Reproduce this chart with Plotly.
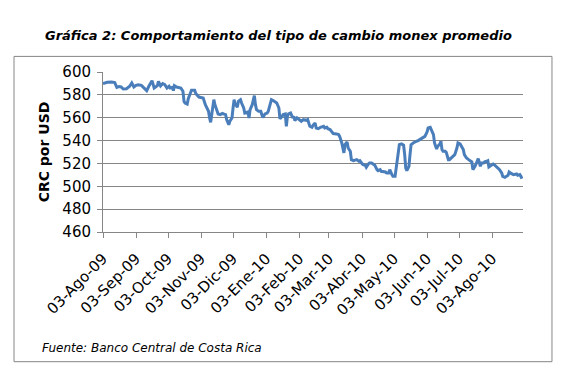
import plotly.graph_objects as go

fechas = [
    "2009-08-03", "2009-08-07", "2009-08-11", "2009-08-14", "2009-08-16", "2009-08-18",
    "2009-08-20", "2009-08-22", "2009-08-25", "2009-08-28", "2009-08-30", "2009-09-01",
    "2009-09-03", "2009-09-05", "2009-09-08", "2009-09-12", "2009-09-13", "2009-09-15",
    "2009-09-18", "2009-09-20", "2009-09-23", "2009-09-24", "2009-09-26", "2009-09-28",
    "2009-09-30", "2009-10-02", "2009-10-04", "2009-10-05", "2009-10-07", "2009-10-08",
    "2009-10-09", "2009-10-11", "2009-10-14", "2009-10-15", "2009-10-17", "2009-10-18",
    "2009-10-19", "2009-10-21", "2009-10-22", "2009-10-24", "2009-10-25", "2009-10-28",
    "2009-10-29", "2009-11-01", "2009-11-03", "2009-11-05", "2009-11-07", "2009-11-08",
    "2009-11-10", "2009-11-11", "2009-11-12", "2009-11-13", "2009-11-15", "2009-11-16",
    "2009-11-18", "2009-11-19", "2009-11-21", "2009-11-23", "2009-11-24", "2009-11-26",
    "2009-11-27", "2009-11-29", "2009-11-30", "2009-12-02", "2009-12-03", "2009-12-04",
    "2009-12-05", "2009-12-07", "2009-12-08", "2009-12-10", "2009-12-11", "2009-12-13",
    "2009-12-14", "2009-12-17", "2009-12-18", "2009-12-19", "2009-12-21", "2009-12-22",
    "2009-12-23", "2009-12-24", "2009-12-25", "2009-12-27", "2009-12-29", "2009-12-30",
    "2009-12-31", "2010-01-02", "2010-01-04", "2010-01-05", "2010-01-07", "2010-01-08",
    "2010-01-10", "2010-01-13", "2010-01-15", "2010-01-16", "2010-01-18", "2010-01-19",
    "2010-01-21", "2010-01-22", "2010-01-23", "2010-01-24", "2010-01-26", "2010-01-28",
    "2010-01-29", "2010-01-30", "2010-02-01", "2010-02-03", "2010-02-05", "2010-02-07",
    "2010-02-10", "2010-02-11", "2010-02-13", "2010-02-15", "2010-02-16", "2010-02-18",
    "2010-02-19", "2010-02-21", "2010-02-23", "2010-02-26", "2010-02-27", "2010-03-01",
    "2010-03-02", "2010-03-04", "2010-03-06", "2010-03-07", "2010-03-10", "2010-03-12",
    "2010-03-13", "2010-03-15", "2010-03-17", "2010-03-18", "2010-03-20", "2010-03-21",
    "2010-03-23", "2010-03-24", "2010-03-26", "2010-03-27", "2010-03-29", "2010-03-31",
    "2010-04-01", "2010-04-03", "2010-04-04", "2010-04-06", "2010-04-07", "2010-04-09",
    "2010-04-10", "2010-04-12", "2010-04-14", "2010-04-15", "2010-04-17", "2010-04-18",
    "2010-04-20", "2010-04-21", "2010-04-25", "2010-04-26", "2010-04-28", "2010-04-29",
    "2010-05-01", "2010-05-02", "2010-05-04", "2010-05-05", "2010-05-07", "2010-05-08",
    "2010-05-10", "2010-05-12", "2010-05-13", "2010-05-14", "2010-05-15", "2010-05-17",
    "2010-05-18", "2010-05-19", "2010-05-21", "2010-05-23", "2010-05-24", "2010-05-26",
    "2010-05-27", "2010-05-29", "2010-05-30", "2010-06-01", "2010-06-03", "2010-06-04",
    "2010-06-06", "2010-06-07", "2010-06-09", "2010-06-10", "2010-06-12", "2010-06-13",
    "2010-06-15", "2010-06-16", "2010-06-17", "2010-06-18", "2010-06-20", "2010-06-21",
    "2010-06-23", "2010-06-24", "2010-06-26", "2010-06-27", "2010-06-29", "2010-07-01",
    "2010-07-02", "2010-07-04", "2010-07-05", "2010-07-07", "2010-07-08", "2010-07-10",
    "2010-07-12", "2010-07-13", "2010-07-15", "2010-07-16", "2010-07-17", "2010-07-18",
    "2010-07-20", "2010-07-21", "2010-07-23", "2010-07-24", "2010-07-26", "2010-07-27",
    "2010-07-29", "2010-07-30", "2010-07-31", "2010-08-01", "2010-08-02", "2010-08-04",
    "2010-08-05", "2010-08-07", "2010-08-08", "2010-08-10", "2010-08-12", "2010-08-13",
    "2010-08-15", "2010-08-17", "2010-08-18", "2010-08-19", "2010-08-20", "2010-08-23",
    "2010-08-26", "2010-08-27", "2010-08-29", "2010-08-30", "2010-08-31",
]

valores = [
    589.8, 591.0, 591.3, 590.7, 586.6, 587.2,
    586.9, 585.1, 585.4, 587.5, 590.4, 586.9,
    588.3, 588.9, 588.3, 585.1, 583.7, 587.5,
    592.4, 586.0, 588.0, 591.8, 587.8, 589.8,
    588.9, 586.0, 587.5, 586.0, 586.6, 583.7,
    588.0, 586.9, 586.6, 586.0, 583.1, 574.3,
    572.9, 572.0, 576.7, 582.2, 584.0, 584.0,
    581.3, 578.1, 577.8, 577.3, 571.4, 569.4,
    565.6, 559.8, 556.0, 562.7, 575.8, 571.4,
    567.1, 563.3, 562.7, 563.8, 563.3, 562.7,
    558.3, 553.9, 556.9, 559.8, 568.5, 575.8,
    572.0, 569.1, 574.3, 575.8, 572.9, 568.5,
    564.1, 565.0, 559.8, 567.1, 571.4, 577.3,
    579.3, 571.4, 567.1, 565.6, 565.6, 562.7,
    560.3, 563.3, 564.1, 565.6, 571.4, 575.8,
    574.9, 572.9, 568.5, 559.0, 561.2, 562.7,
    563.3, 552.5, 561.2, 563.3, 564.1, 559.8,
    561.2, 557.4, 559.8, 558.3, 556.9, 558.3,
    557.7, 558.3, 552.5, 551.6, 553.4, 555.4,
    551.0, 550.4, 551.6, 552.5, 551.0, 551.6,
    550.4, 549.6, 547.5, 546.1, 545.8, 545.2,
    543.7, 537.9, 529.2, 536.4, 538.8, 533.5,
    530.6, 523.3, 522.4, 522.7, 523.3, 521.9,
    522.4, 519.8, 518.9, 518.4, 516.6, 519.5,
    520.4, 520.4, 518.9, 518.4, 514.6, 513.7,
    514.6, 513.1, 512.5, 511.7, 511.7, 514.6,
    510.2, 508.7, 508.7, 516.0, 530.6, 536.4,
    537.0, 535.9, 527.7, 516.0, 513.7, 517.5,
    527.7, 536.4, 537.9, 538.5, 539.4, 540.2,
    540.8, 541.7, 542.3, 543.7, 547.5, 551.0,
    551.6, 549.6, 545.2, 537.9, 532.7, 535.0,
    537.0, 539.4, 532.1, 530.6, 530.6, 529.7,
    523.3, 523.3, 524.8, 526.2, 527.7, 533.5,
    537.9, 537.0, 535.0, 532.1, 527.7, 524.8,
    523.3, 522.4, 521.3, 514.6, 516.0, 517.5,
    521.9, 524.2, 517.5, 520.4, 520.4, 521.3,
    521.9, 522.4, 516.9, 517.5, 518.4, 519.5,
    518.9, 517.5, 516.0, 514.6, 511.7, 508.7,
    507.9, 508.7, 509.6, 512.5, 511.7, 510.2,
    510.8, 509.6, 510.2, 508.7, 506.7,
]

tick_fechas = [
    "2009-08-03", "2009-09-03", "2009-10-03", "2009-11-03", "2009-12-03",
    "2010-01-03", "2010-02-03", "2010-03-03", "2010-04-03", "2010-05-03",
    "2010-06-03", "2010-07-03", "2010-08-03",
]
tick_etiquetas = [
    "03-Ago-09", "03-Sep-09", "03-Oct-09", "03-Nov-09", "03-Dic-09",
    "03-Ene-10", "03-Feb-10", "03-Mar-10", "03-Abr-10", "03-May-10",
    "03-Jun-10", "03-Jul-10", "03-Ago-10",
]
y_ticks = [460, 480, 500, 520, 540, 560, 580, 600]

titulo = "Gráfica 2: Comportamiento del tipo de cambio monex promedio"
fuente = "Fuente: Banco Central de Costa Rica"
y_titulo = "CRC por USD"

FONT = "DejaVu Sans, Verdana, sans-serif"
GRID = "#868686"

fig = go.Figure()
fig.add_trace(go.Scatter(
    x=fechas, y=valores, mode="lines",
    line=dict(color="#4a7ebb", width=3),
    showlegend=False, hoverinfo="x+y",
))

fig.update_layout(
    width=568, height=380,
    margin=dict(l=103, r=45, t=72, b=148, pad=0, autoexpand=False),
    paper_bgcolor="white", plot_bgcolor="white",
    font=dict(family=FONT, color="black"),
    showlegend=False,
)

fig.update_xaxes(
    type="date",
    range=["2009-08-03", "2010-09-01"],
    tickmode="array", tickvals=tick_fechas, ticktext=tick_etiquetas,
    tickangle=-45, tickfont=dict(size=15, family=FONT, color="black"),
    ticks="outside", ticklen=5, tickcolor=GRID, tickwidth=1,
    ticklabelstandoff=6,
    showline=True, linecolor=GRID, linewidth=1,
    showgrid=False, zeroline=False, automargin=False,
)
fig.update_yaxes(
    range=[460, 600],
    tickmode="array", tickvals=y_ticks,
    tickfont=dict(size=15, family=FONT, color="black"),
    ticks="outside", ticklen=5, tickcolor=GRID, tickwidth=1,
    ticklabelstandoff=3,
    showline=True, linecolor=GRID, linewidth=1,
    showgrid=True, gridcolor=GRID, gridwidth=1,
    zeroline=False, automargin=False,
    title=dict(text="<b>" + y_titulo + "</b>", font=dict(size=14, family=FONT, color="black"), standoff=9),
)

# outer chart frame
fig.add_shape(
    type="rect", xref="paper", yref="paper",
    x0=-0.2119, x1=1.069, y0=-0.8106, y1=1.0975,
    line=dict(color=GRID, width=1), fillcolor="rgba(0,0,0,0)", layer="above",
)

fig.add_annotation(
    text="<b><i>" + titulo + "</i></b>",
    xref="paper", yref="paper", x=(278 - 103) / 420, y=(232.3 - 36) / 160,
    xanchor="center", yanchor="middle", showarrow=False,
    font=dict(size=13, family=FONT, color="black"),
)
fig.add_annotation(
    text="<i>" + fuente + "</i>",
    xref="paper", yref="paper", x=(40 - 103) / 420, y=(232.3 - 348) / 160,
    xanchor="left", yanchor="middle", showarrow=False,
    font=dict(size=12, family=FONT, color="black"),
)

fig.write_html(
    "out.html",
    config={"displayModeBar": False},
    post_script="document.body.style.margin='0';",
)
